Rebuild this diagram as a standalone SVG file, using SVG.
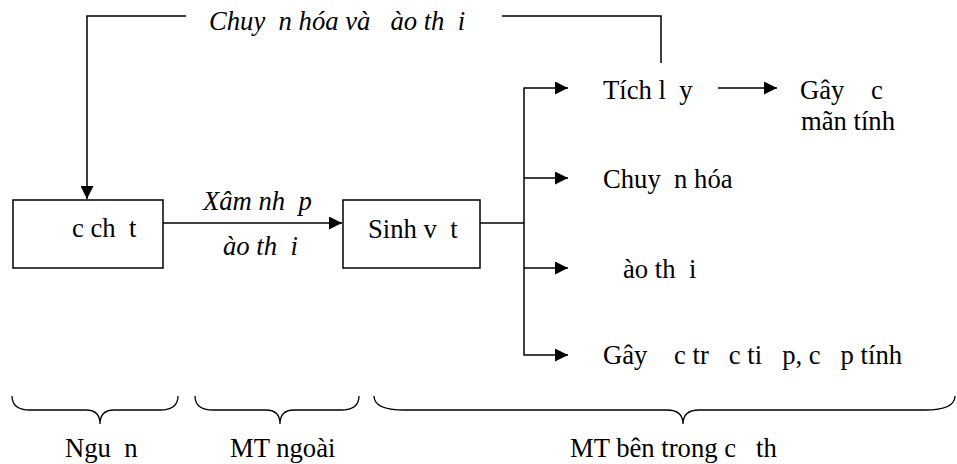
<svg xmlns="http://www.w3.org/2000/svg" width="957" height="464" viewBox="0 0 957 464">
<defs>
<marker id="ah" viewBox="0 0 10 10" refX="10" refY="5" markerWidth="13" markerHeight="13" markerUnits="userSpaceOnUse" orient="auto"><path d="M0,0 L10,5 L0,10 Z" fill="#000"/></marker>
<style>
text{font-family:"Liberation Serif","Times New Roman",serif;font-size:26.67px;fill:#000;white-space:pre}
.i{font-style:italic}
.ln{fill:none;stroke:#000;stroke-width:1.5}
.br{fill:none;stroke:#000;stroke-width:1.3}
</style>
</defs>
<rect width="957" height="464" fill="#fff"/>
<g id="connectors">
<polyline class="ln" points="186,16 87,16 87,199" marker-end="url(#ah)"/>
<polyline class="ln" points="502,16 661,16 661,63"/>
<line class="ln" x1="163" y1="223" x2="342" y2="223" marker-end="url(#ah)"/>
<line class="ln" x1="480" y1="223" x2="524" y2="223"/>
<line class="ln" x1="524" y1="87.5" x2="524" y2="355.5"/>
<line class="ln" x1="524" y1="88" x2="568" y2="88" marker-end="url(#ah)"/>
<line class="ln" x1="524" y1="178" x2="568" y2="178" marker-end="url(#ah)"/>
<line class="ln" x1="524" y1="268" x2="568" y2="268" marker-end="url(#ah)"/>
<line class="ln" x1="524" y1="355" x2="568" y2="355" marker-end="url(#ah)"/>
<line class="ln" x1="718" y1="88" x2="777" y2="88" marker-end="url(#ah)"/>
</g>
<text class="i" x="209" y="30">Chuy  n hóa và   ào th  i</text>
<text class="i" x="203" y="210">Xâm nh  p</text>
<text class="i" x="223" y="255">ào th  i</text>
<g id="source"><rect class="ln" x="13" y="200" width="150" height="68"/><text x="72" y="237">c ch  t</text></g>
<g id="organism"><rect class="ln" x="343" y="200" width="137" height="68"/><text x="368" y="238">Sinh v  t</text></g>
<g id="accumulate"><text x="603" y="99">Tích l  y</text></g>
<g id="chronic"><text x="800" y="99">Gây    c</text><text x="801" y="130">mãn tính</text></g>
<g id="transform"><text x="603" y="188">Chuy  n hóa</text></g>
<g id="excrete"><text x="623" y="278">ào th  i</text></g>
<g id="acute"><text x="603" y="364">Gây    c tr   c ti   p, c   p tính</text></g>
<g id="braces">
<path class="br" d="M12,396 Q12,410 30,410 L86,410 Q100,410 100,424 Q100,410 114,410 L160,410 Q178,410 178,396"/>
<path class="br" d="M195,396 Q195,410 213,410 L266,410 Q280,410 280,424 Q280,410 294,410 L341,410 Q359,410 359,396"/>
<path class="br" d="M374,396 Q374,410 404,410 L667,410 Q683,410 683,424 Q683,410 699,410 L925,410 Q955,410 955,396"/>
</g>
<text x="65" y="457">Ngu  n</text>
<text x="230" y="457">MT ngoài</text>
<text x="570" y="457">MT bên trong c   th</text>
</svg>
